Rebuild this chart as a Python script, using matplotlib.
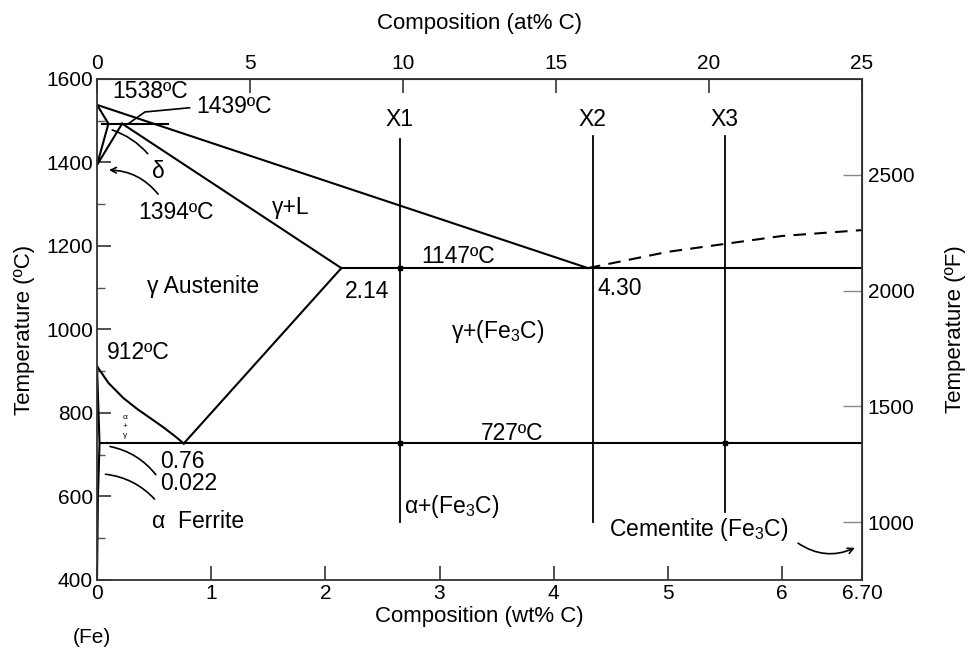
import numpy as np
import matplotlib
matplotlib.use("Agg")
import matplotlib.pyplot as plt

plt.rcParams["font.family"] = ["Liberation Sans", "DejaVu Sans"]
plt.rcParams["mathtext.default"] = "regular"

# phase boundaries (wt% C, deg C)
liquidus_wt = [0.0, 4.30]
liquidus_T = [1538, 1147]
liquidus_ext_wt = [4.30, 5.0, 5.5, 6.0, 6.70]
liquidus_ext_T = [1147, 1186, 1205, 1224, 1238]
solidus_wt = [0.22, 2.14]
solidus_T = [1493, 1147]
acm_wt = [0.76, 2.14]
acm_T = [727, 1147]
a3_wt = [0.0, 0.1, 0.23, 0.35, 0.46, 0.58, 0.68, 0.76]
a3_T = [912, 872, 836, 810, 789, 766, 745, 727]
alpha_wt = [0.0, 0.022, 0.008, 0.0]
alpha_T = [912, 727, 600, 400]
delta_wt = [0.0, 0.10, 0.0]
delta_T = [1538, 1493, 1394]
gamma_delta_wt = [0.0, 0.22]
gamma_delta_T = [1394, 1493]
peritectic_wt = [0.04, 0.62]
peritectic_T = 1493
eutectic_wt = [2.14, 6.70]
eutectic_T = 1147
eutectoid_wt = [0.022, 6.70]
eutectoid_T = 727

# alloy verticals
alloy_names = ["X1", "X2", "X3"]
alloy_wt = [2.65, 4.34, 5.50]
alloy_top = [1456, 1463, 1463]
alloy_bottom = [539, 539, 563]
dot_wt = [2.65, 2.65, 5.50]
dot_T = [1147, 727, 727]

wt_ticks = [0, 1, 2, 3, 4, 5, 6, 6.70]
wt_labels = ["0", "1", "2", "3", "4", "5", "6", "6.70"]
at_ticks = [0, 5, 10, 15, 20, 25]
c_ticks = [400, 600, 800, 1000, 1200, 1400, 1600]
f_ticks = [1000, 1500, 2000, 2500]

fs = 16.5   # labels inside the diagram
tfs = 15    # tick labels
lfs = 16    # axis titles
fig = plt.figure(figsize=(9.72, 6.57), dpi=100)
ax = fig.add_axes([0.0998, 0.1172, 0.787, 0.7626])
ax.set_xlim(0, 6.70)
ax.set_ylim(400, 1600)

lw = 1.5
k = "black"
ax.plot(liquidus_wt, liquidus_T, color=k, lw=lw)
ax.plot(liquidus_ext_wt, liquidus_ext_T, color=k, lw=lw, ls=(0, (6, 4)))
ax.plot(solidus_wt, solidus_T, color=k, lw=lw)
ax.plot(acm_wt, acm_T, color=k, lw=lw)
ax.plot(a3_wt, a3_T, color=k, lw=lw)
ax.plot(alpha_wt, alpha_T, color=k, lw=lw)
ax.plot(delta_wt, delta_T, color=k, lw=lw)
ax.plot(gamma_delta_wt, gamma_delta_T, color=k, lw=lw)
ax.plot(peritectic_wt, [peritectic_T] * 2, color=k, lw=lw)
ax.plot(eutectic_wt, [eutectic_T] * 2, color=k, lw=lw)
ax.plot(eutectoid_wt, [eutectoid_T] * 2, color=k, lw=lw)

for name, x, top, bot in zip(alloy_names, alloy_wt, alloy_top, alloy_bottom):
    ax.plot([x, x], [bot, top], color=k, lw=1.3)
    ax.text(x, 1504, name, ha="center", va="center", fontsize=fs)
ax.plot(dot_wt, dot_T, ls="none", marker="s", ms=2.5, color=k)

# labels
def lab(x, y, s, **kw):
    ax.text(x, y, s, fontsize=kw.pop("fontsize", fs), va="center", ha=kw.pop("ha", "left"),
            clip_on=False, **kw)

lab(0.13, 1569, "1538ºC")
lab(0.87, 1535, "1439ºC")
ax.plot([0.81, 0.42, 0.27], [1531, 1521, 1492], color=k, lw=1.2)
lab(0.48, 1378, "δ")
ax.annotate("", xy=(0.11, 1480), xytext=(0.46, 1416),
            arrowprops=dict(arrowstyle="-", color=k, lw=1.2, connectionstyle="arc3,rad=0.15"))
lab(0.36, 1281, "1394ºC")
ax.annotate("", xy=(0.08, 1382), xytext=(0.55, 1319),
            arrowprops=dict(arrowstyle="->", color=k, lw=1.2, connectionstyle="arc3,rad=0.25"))
lab(1.53, 1293, "γ+L")
lab(0.44, 1102, "γ Austenite")
lab(2.17, 1092, "2.14")
lab(2.84, 1176, "1147ºC")
lab(4.38, 1097, "4.30")
lab(3.10, 996, "γ+(Fe$_3$C)")
lab(0.09, 946, "912ºC")
lab(0.245, 789, "α", fontsize=6, ha="center")
lab(0.245, 767, "+", fontsize=6, ha="center")
lab(0.245, 746, "γ", fontsize=6, ha="center")
lab(3.36, 750, "727ºC")
lab(0.55, 683, "0.76")
lab(0.55, 630, "0.022")
ax.annotate("", xy=(0.09, 721), xytext=(0.53, 647),
            arrowprops=dict(arrowstyle="-", color=k, lw=1.2, connectionstyle="arc3,rad=0.2"))
ax.annotate("", xy=(0.05, 654), xytext=(0.52, 589),
            arrowprops=dict(arrowstyle="-", color=k, lw=1.2, connectionstyle="arc3,rad=0.2"))
lab(0.48, 541, "α  Ferrite")
lab(2.69, 575, "α+(Fe$_3$C)")
lab(4.48, 522, "Cementite (Fe$_3$C)")
ax.annotate("", xy=(6.66, 480), xytext=(6.12, 492),
            arrowprops=dict(arrowstyle="->", color=k, lw=1.2, connectionstyle="arc3,rad=0.3"))
lab(-0.21, 262, "(Fe)", fontsize=tfs)

# axes styling
for sp in ax.spines.values():
    sp.set_color("#333333")
    sp.set_linewidth(1.3)
ax.set_xticks(wt_ticks)
ax.set_xticklabels(wt_labels)
ax.set_yticks(c_ticks)
ax.set_yticks(np.arange(500, 1600, 200), minor=True)
ax.tick_params(axis="both", which="major", direction="in", length=10, width=1.2,
               labelsize=tfs, pad=3, color="#333333")
ax.tick_params(axis="y", which="minor", direction="in", length=6, width=1.0, color="#555555")
ax.set_xlabel("Composition (wt% C)", fontsize=lfs, labelpad=2)
ax.set_ylabel("Temperature (ºC)", fontsize=lfs, labelpad=8)

top = ax.secondary_xaxis("top", functions=(lambda w: w * 25 / 6.70, lambda a: a * 6.70 / 25))
top.set_xticks(at_ticks)
top.tick_params(direction="in", length=10, width=1.2, labelsize=tfs, pad=4, color="#333333")
top.set_xlabel("Composition (at% C)", fontsize=lfs, labelpad=18)

right = ax.secondary_yaxis("right", functions=(lambda c: c * 9 / 5 + 32, lambda f: (f - 32) * 5 / 9))
right.set_yticks(f_ticks)
right.tick_params(direction="in", length=14, width=1.0, labelsize=tfs, pad=4, color="#888888")
right.set_ylabel("Temperature (ºF)", fontsize=lfs, labelpad=22)

fig.savefig("out.png", dpi=100)
